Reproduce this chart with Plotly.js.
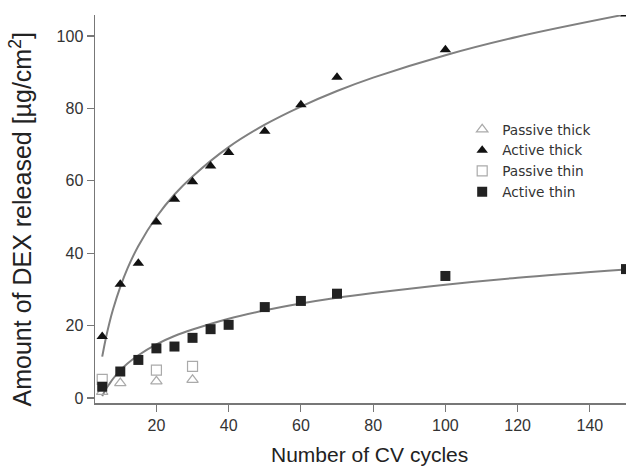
<!DOCTYPE html>
<html>
<head>
<meta charset="utf-8">
<script src="https://cdn.plot.ly/plotly-3.0.1.min.js"></script>
<style>html,body{margin:0;padding:0;background:#fff;}#chart{width:630px;height:473px;}</style>
</head>
<body>
<div id="chart"></div>
<script>
// Measured data (Number of CV cycles vs amount released)
var cyclesActive = [5, 10, 15, 20, 25, 30, 35, 40, 50, 60, 70, 100, 150];
var activeThick = [17.0, 31.4, 37.2, 48.6, 54.9, 59.7, 64.1, 67.8, 73.7, 81.0, 88.6, 96.2, 106.1];
var activeThin = [3.1, 7.3, 10.5, 13.7, 14.2, 16.6, 19.0, 20.2, 25.1, 26.8, 28.8, 33.7, 35.6];

var cyclesPassiveThick = [5, 10, 20, 30];
var passiveThick = [1.7, 4.1, 4.6, 5.0];
var cyclesPassiveThin = [5, 20, 30];
var passiveThin = [5.1, 7.7, 8.7];

// Fit curves, values
var fitX = [5, 6, 7, 8, 10, 12, 15, 20, 25, 30, 40, 50, 60, 70, 80, 100, 120, 150];
var fitThick = [11.4, 16.5, 20.8, 24.5, 30.7, 35.8, 42.0, 50.0, 56.2, 61.2, 69.3, 75.5, 80.5, 84.8, 88.5, 94.7, 99.8, 106.0];
var fitThin = [0.5, 2.4, 3.9, 5.3, 7.6, 9.5, 11.8, 14.8, 17.1, 18.9, 21.9, 24.2, 26.1, 27.7, 29.0, 31.3, 33.2, 35.5];

var xTitle = 'Number of CV cycles';
var yTitle = 'Amount of DEX released [µg/cm<sup>2</sup>]';
var xTicks = [20, 40, 60, 80, 100, 120, 140];
var yTicks = [0, 20, 40, 60, 80, 100];

var lineColor = '#808080';
var traces = [
  {x: fitX, y: fitThick, mode: 'lines', line: {color: lineColor, width: 2, shape: 'spline'}, showlegend: false, hoverinfo: 'skip'},
  {x: fitX, y: fitThin, mode: 'lines', line: {color: lineColor, width: 2, shape: 'spline'}, showlegend: false, hoverinfo: 'skip'},
  {x: cyclesPassiveThick, y: passiveThick, mode: 'markers', name: 'Passive thick',
   marker: {symbol: 'triangle-up-open', size: 10, color: '#aaaaaa', line: {width: 1.2, color: '#aaaaaa'}}},
  {x: cyclesActive, y: activeThick, mode: 'markers', name: 'Active thick',
   marker: {symbol: 'triangle-up', size: 10, color: '#111111'}},
  {x: cyclesPassiveThin, y: passiveThin, mode: 'markers', name: 'Passive thin',
   marker: {symbol: 'square-open', size: 10, color: '#aaaaaa', line: {width: 1.2, color: '#aaaaaa'}}},
  {x: cyclesActive, y: activeThin, mode: 'markers', name: 'Active thin',
   marker: {symbol: 'square', size: 10, color: '#222222'}}
];

var layout = {
  width: 630, height: 473,
  margin: {l: 95, r: 4, t: 15, b: 70},
  paper_bgcolor: '#ffffff', plot_bgcolor: '#ffffff',
  font: {family: 'Liberation Sans, Arial, sans-serif', color: '#222222'},
  showlegend: true,
  legend: {x: 0.6915, y: 0.745, xanchor: 'left', yanchor: 'top', bgcolor: 'rgba(0,0,0,0)',
           font: {family: 'DejaVu Sans, sans-serif', size: 13.7, color: '#333333'}, tracegroupgap: 0},
  xaxis: {
    range: [3, 150], showgrid: false, zeroline: false,
    showline: true, linecolor: '#777777', linewidth: 1.5,
    ticks: 'outside', ticklen: 7, tickwidth: 1.2, tickcolor: '#777777',
    tickvals: xTicks,
    tickfont: {size: 16, color: '#333333'}
  },
  yaxis: {
    range: [-1.4, 105.8], showgrid: false, zeroline: false,
    showline: true, linecolor: '#777777', linewidth: 1.5,
    ticks: 'outside', ticklen: 7, tickwidth: 1.2, tickcolor: '#777777',
    tickvals: yTicks,
    tickfont: {size: 16, color: '#333333'}
  },
  annotations: [
    {text: xTitle, xref: 'paper', yref: 'paper', x: 0.517, y: -0.134, xanchor: 'center', yanchor: 'middle',
     showarrow: false, font: {size: 21, color: '#222222'}},
    {text: yTitle, xref: 'paper', yref: 'paper', x: -0.1394, y: 0.473, xanchor: 'center', yanchor: 'middle',
     textangle: -90, showarrow: false, font: {size: 25, color: '#222222'}}
  ]
};

Plotly.newPlot('chart', traces, layout, {displayModeBar: false, staticPlot: true});
</script>
</body>
</html>
